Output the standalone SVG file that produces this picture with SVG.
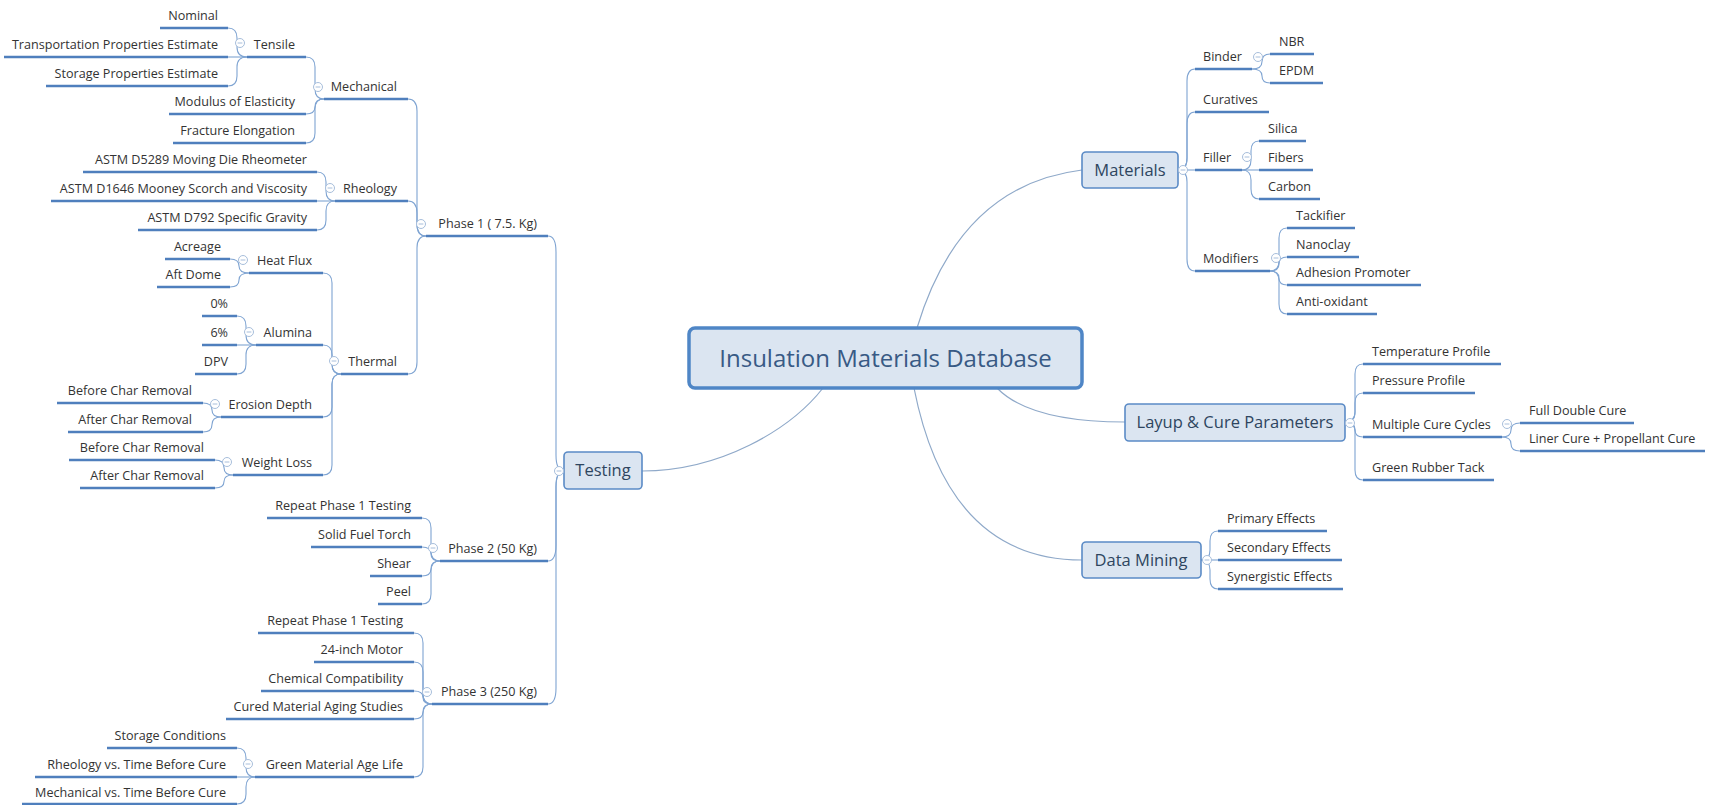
<svg xmlns="http://www.w3.org/2000/svg" xmlns:xlink="http://www.w3.org/1999/xlink" width="1713" height="805" viewBox="0 0 1713 805">
<style>
.t{font-family:"Open Sans","Liberation Sans",sans-serif;font-size:12.6px;fill:#333}
.l{text-anchor:end}
.ul{stroke:#4f7fbd;stroke-width:2.6;fill:none}
.cn{stroke:#7fa4d2;stroke-width:1.1;fill:none}
.mc{stroke:#8fa9c9;stroke-width:1.2;fill:none}
.box{fill:#dbe5f1;stroke:#5b8bc6;stroke-width:1.6}
.bt{font-family:"Open Sans","Liberation Sans",sans-serif;font-size:16.5px;fill:#2e4560;text-anchor:middle}
.ct{font-family:"Open Sans","Liberation Sans",sans-serif;font-size:24px;fill:#385a85;text-anchor:middle}
.col circle{fill:#fff;stroke:#a7bedb;stroke-width:1}
.col line{stroke:#a7bedb;stroke-width:1}
</style>
<defs>
<g id="col" class="col"><circle r="4.5"/><line x1="-2.4" y1="0" x2="2.4" y2="0"/></g>
</defs>
<rect width="1713" height="805" fill="#fff"/>
<g id="connectors">
<g class="mc">
<path d="M642,471 C720,471 790,430 823,388"/>
<path d="M917,328 Q960,185 1082,170"/>
<path d="M997,388 Q1030,422 1125,422"/>
<path d="M914,388 Q948,560 1082,560"/>
</g>
<g class="cn">
<path d="M228,28 Q237,28 237,38 V47 Q237,57 247,57"/>
<path d="M228,57 H247"/>
<path d="M228,86 Q237,86 237,76 V67 Q237,57 247,57"/>
<path d="M306,57 Q315,57 315,67 V89 Q315,99 324,99"/>
<path d="M306,114 Q315,114 315,106.5 Q315,99 324,99"/>
<path d="M306,143 Q315,143 315,133 V109 Q315,99 324,99"/>
<path d="M317,172 Q326,172 326,182 V191 Q326,201 335,201"/>
<path d="M317,201 H335"/>
<path d="M317,230 Q326,230 326,220 V211 Q326,201 335,201"/>
<path d="M230,259 Q239,259 239,266 Q239,273 249,273"/>
<path d="M230,287 Q239,287 239,280 Q239,273 249,273"/>
<path d="M237,316 Q246,316 246,326 V335 Q246,345 256,345"/>
<path d="M237,345 H256"/>
<path d="M237,374 Q246,374 246,364 V355 Q246,345 256,345"/>
<path d="M203,403 Q212,403 212,410 Q212,417 221,417"/>
<path d="M203,432 Q212,432 212,424.5 Q212,417 221,417"/>
<path d="M215,460 Q224,460 224,467.5 Q224,475 233,475"/>
<path d="M215,488 Q224,488 224,481.5 Q224,475 233,475"/>
<path d="M323,273 Q332,273 332,283 V364 Q332,374 341,374"/>
<path d="M323,345 Q332,345 332,355 V364 Q332,374 341,374"/>
<path d="M323,417 Q332,417 332,407 V384 Q332,374 341,374"/>
<path d="M323,475 Q332,475 332,465 V384 Q332,374 341,374"/>
<path d="M408,99 Q417,99 417,111 V224 Q417,236 426,236"/>
<path d="M408,201 Q417,201 417,213 V224 Q417,236 426,236"/>
<path d="M408,374 Q417,374 417,362 V248 Q417,236 426,236"/>
<path d="M422,518 Q431,518 431,528 V551 Q431,561 440,561"/>
<path d="M422,547 Q431,547 431,554 Q431,561 440,561"/>
<path d="M422,576 Q431,576 431,568.5 Q431,561 440,561"/>
<path d="M422,604 Q431,604 431,594 V571 Q431,561 440,561"/>
<path d="M414,633 Q423,633 423,643 V694 Q423,704 432,704"/>
<path d="M414,662 Q423,662 423,672 V694 Q423,704 432,704"/>
<path d="M414,691 Q423,691 423,697.5 Q423,704 432,704"/>
<path d="M414,719 Q423,719 423,711.5 Q423,704 432,704"/>
<path d="M414,777 Q423,777 423,767 V714 Q423,704 432,704"/>
<path d="M237,748 Q246,748 246,758 V767 Q246,777 255,777"/>
<path d="M237,777 H255"/>
<path d="M237,804 Q246,804 246,794 V787 Q246,777 255,777"/>
<path d="M548,236 Q556,236 556,252 V455 Q556,471 564,471"/>
<path d="M548,561 Q556,561 556,545 V487 Q556,471 564,471"/>
<path d="M548,704 Q556,704 556,688 V487 Q556,471 564,471"/>
<path d="M1178,170 Q1187,170 1187,158 V81 Q1187,69 1195,69"/>
<path d="M1178,170 Q1187,170 1187,158 V124 Q1187,112 1195,112"/>
<path d="M1178,170 H1195"/>
<path d="M1178,170 Q1187,170 1187,182 V259 Q1187,271 1195,271"/>
<path d="M1252,69 Q1262,69 1262,61.5 Q1262,54 1270,54"/>
<path d="M1252,69 Q1262,69 1262,76 Q1262,83 1270,83"/>
<path d="M1242,170 Q1251,170 1251,160 V151 Q1251,141 1259,141"/>
<path d="M1242,170 H1259"/>
<path d="M1242,170 Q1251,170 1251,180 V189 Q1251,199 1259,199"/>
<path d="M1270,271 Q1279,271 1279,261 V238 Q1279,228 1287,228"/>
<path d="M1270,271 Q1279,271 1279,264 Q1279,257 1287,257"/>
<path d="M1270,271 Q1279,271 1279,278 Q1279,285 1287,285"/>
<path d="M1270,271 Q1279,271 1279,281 V304 Q1279,314 1287,314"/>
<path d="M1345,422 Q1355,422 1355,412 V374 Q1355,364 1363,364"/>
<path d="M1345,422 Q1355,422 1355,412 V403 Q1355,393 1363,393"/>
<path d="M1345,422 Q1355,422 1355,429.5 Q1355,437 1363,437"/>
<path d="M1345,422 Q1355,422 1355,432 V470 Q1355,480 1363,480"/>
<path d="M1502,437 Q1511,437 1511,430 Q1511,423 1520,423"/>
<path d="M1502,437 Q1511,437 1511,444 Q1511,451 1520,451"/>
<path d="M1201,560 Q1210,560 1210,550 V541 Q1210,531 1218,531"/>
<path d="M1201,560 H1218"/>
<path d="M1201,560 Q1210,560 1210,570 V579 Q1210,589 1218,589"/>
</g>
</g>
<g id="n-central"><rect x="689" y="328" width="393" height="60" rx="6" fill="#dbe5f1" stroke="#4f86c6" stroke-width="3.5"/><text class="ct" x="885.5" y="367">Insulation Materials Database</text></g>
<g id="n-testing"><rect class="box" x="564" y="452" width="78" height="37" rx="4"/><text class="bt" x="603" y="476">Testing</text><use href="#col" x="559" y="471"/></g>
<g id="n-nominal"><path class="ul" d="M160,28 H228"/><text class="t l" x="218" y="20">Nominal</text></g>
<g id="n-transport"><path class="ul" d="M4,57 H228"/><text class="t l" x="218" y="49">Transportation Properties Estimate</text></g>
<g id="n-storage-est"><path class="ul" d="M46,86 H228"/><text class="t l" x="218" y="78">Storage Properties Estimate</text></g>
<g id="n-tensile"><path class="ul" d="M247,57 H306"/><text class="t l" x="295" y="49">Tensile</text><use href="#col" x="240" y="43"/></g>
<g id="n-modulus"><path class="ul" d="M169,114 H306"/><text class="t l" x="295" y="106">Modulus of Elasticity</text></g>
<g id="n-fracture"><path class="ul" d="M173,143 H306"/><text class="t l" x="295" y="135">Fracture Elongation</text></g>
<g id="n-mechanical"><path class="ul" d="M324,99 H408"/><text class="t l" x="397" y="91">Mechanical</text><use href="#col" x="318" y="87"/></g>
<g id="n-d5289"><path class="ul" d="M83,172 H317"/><text class="t l" x="307" y="164">ASTM D5289 Moving Die Rheometer</text></g>
<g id="n-d1646"><path class="ul" d="M51,201 H317"/><text class="t l" x="307" y="193">ASTM D1646 Mooney Scorch and Viscosity</text></g>
<g id="n-d792"><path class="ul" d="M138,230 H317"/><text class="t l" x="307" y="222">ASTM D792 Specific Gravity</text></g>
<g id="n-rheology"><path class="ul" d="M335,201 H408"/><text class="t l" x="397" y="193">Rheology</text><use href="#col" x="330" y="188"/></g>
<g id="n-acreage"><path class="ul" d="M165,259 H230"/><text class="t l" x="221" y="251">Acreage</text></g>
<g id="n-aftdome"><path class="ul" d="M157,287 H230"/><text class="t l" x="221" y="279">Aft Dome</text></g>
<g id="n-heatflux"><path class="ul" d="M249,273 H323"/><text class="t l" x="312" y="265">Heat Flux</text><use href="#col" x="243" y="260"/></g>
<g id="n-0pct"><path class="ul" d="M202,316 H237"/><text class="t l" x="228" y="308">0%</text></g>
<g id="n-6pct"><path class="ul" d="M202,345 H237"/><text class="t l" x="228" y="337">6%</text></g>
<g id="n-dpv"><path class="ul" d="M195,374 H237"/><text class="t l" x="228" y="366">DPV</text></g>
<g id="n-alumina"><path class="ul" d="M256,345 H323"/><text class="t l" x="312" y="337">Alumina</text><use href="#col" x="249" y="332"/></g>
<g id="n-before1"><path class="ul" d="M57,403 H203"/><text class="t l" x="192" y="395">Before Char Removal</text></g>
<g id="n-after1"><path class="ul" d="M68,432 H203"/><text class="t l" x="192" y="424">After Char Removal</text></g>
<g id="n-erosion"><path class="ul" d="M221,417 H323"/><text class="t l" x="312" y="409">Erosion Depth</text><use href="#col" x="215" y="404"/></g>
<g id="n-before2"><path class="ul" d="M69,460 H215"/><text class="t l" x="204" y="452">Before Char Removal</text></g>
<g id="n-after2"><path class="ul" d="M80,488 H215"/><text class="t l" x="204" y="480">After Char Removal</text></g>
<g id="n-weight"><path class="ul" d="M233,475 H323"/><text class="t l" x="312" y="467">Weight Loss</text><use href="#col" x="227" y="462"/></g>
<g id="n-thermal"><path class="ul" d="M341,374 H408"/><text class="t l" x="397" y="366">Thermal</text><use href="#col" x="334" y="361"/></g>
<g id="n-phase1"><path class="ul" d="M426,236 H548"/><text class="t l" x="537" y="228">Phase 1 ( 7.5. Kg)</text><use href="#col" x="421" y="224"/></g>
<g id="n-p2-repeat"><path class="ul" d="M267,518 H422"/><text class="t l" x="411" y="510">Repeat Phase 1 Testing</text></g>
<g id="n-torch"><path class="ul" d="M311,547 H422"/><text class="t l" x="411" y="539">Solid Fuel Torch</text></g>
<g id="n-shear"><path class="ul" d="M370,576 H422"/><text class="t l" x="411" y="568">Shear</text></g>
<g id="n-peel"><path class="ul" d="M378,604 H422"/><text class="t l" x="411" y="596">Peel</text></g>
<g id="n-phase2"><path class="ul" d="M440,561 H548"/><text class="t l" x="537" y="553">Phase 2 (50 Kg)</text><use href="#col" x="433" y="548"/></g>
<g id="n-p3-repeat"><path class="ul" d="M258,633 H414"/><text class="t l" x="403" y="625">Repeat Phase 1 Testing</text></g>
<g id="n-motor"><path class="ul" d="M314,662 H414"/><text class="t l" x="403" y="654">24-inch Motor</text></g>
<g id="n-chem"><path class="ul" d="M261,691 H414"/><text class="t l" x="403" y="683">Chemical Compatibility</text></g>
<g id="n-cured"><path class="ul" d="M226,719 H414"/><text class="t l" x="403" y="711">Cured Material Aging Studies</text></g>
<g id="n-green-age"><path class="ul" d="M255,777 H414"/><text class="t l" x="403" y="769">Green Material Age Life</text><use href="#col" x="248" y="764"/></g>
<g id="n-storage-cond"><path class="ul" d="M107,748 H237"/><text class="t l" x="226" y="740">Storage Conditions</text></g>
<g id="n-rheo-time"><path class="ul" d="M35,777 H237"/><text class="t l" x="226" y="769">Rheology vs. Time Before Cure</text></g>
<g id="n-mech-time"><path class="ul" d="M22,804 H237"/><text class="t l" x="226" y="797">Mechanical vs. Time Before Cure</text></g>
<g id="n-phase3"><path class="ul" d="M432,704 H548"/><text class="t l" x="537" y="696">Phase 3 (250 Kg)</text><use href="#col" x="427" y="692"/></g>
<g id="n-materials"><rect class="box" x="1082" y="152" width="96" height="36" rx="4"/><text class="bt" x="1130" y="176">Materials</text><use href="#col" x="1183" y="170"/></g>
<g id="n-binder"><path class="ul" d="M1195,69 H1252"/><text class="t" x="1203" y="61">Binder</text><use href="#col" x="1258" y="57"/></g>
<g id="n-nbr"><path class="ul" d="M1270,54 H1314"/><text class="t" x="1279" y="46">NBR</text></g>
<g id="n-epdm"><path class="ul" d="M1270,83 H1323"/><text class="t" x="1279" y="75">EPDM</text></g>
<g id="n-curatives"><path class="ul" d="M1195,112 H1269"/><text class="t" x="1203" y="104">Curatives</text></g>
<g id="n-filler"><path class="ul" d="M1195,170 H1242"/><text class="t" x="1203" y="162">Filler</text><use href="#col" x="1247" y="157"/></g>
<g id="n-silica"><path class="ul" d="M1259,141 H1306"/><text class="t" x="1268" y="133">Silica</text></g>
<g id="n-fibers"><path class="ul" d="M1259,170 H1313"/><text class="t" x="1268" y="162">Fibers</text></g>
<g id="n-carbon"><path class="ul" d="M1259,199 H1320"/><text class="t" x="1268" y="191">Carbon</text></g>
<g id="n-modifiers"><path class="ul" d="M1195,271 H1270"/><text class="t" x="1203" y="263">Modifiers</text><use href="#col" x="1276" y="258"/></g>
<g id="n-tackifier"><path class="ul" d="M1287,228 H1355"/><text class="t" x="1296" y="220">Tackifier</text></g>
<g id="n-nanoclay"><path class="ul" d="M1287,257 H1359"/><text class="t" x="1296" y="249">Nanoclay</text></g>
<g id="n-adhesion"><path class="ul" d="M1287,285 H1421"/><text class="t" x="1296" y="277">Adhesion Promoter</text></g>
<g id="n-anti"><path class="ul" d="M1287,314 H1377"/><text class="t" x="1296" y="306">Anti-oxidant</text></g>
<g id="n-layup"><rect class="box" x="1125" y="404" width="220" height="37" rx="4"/><text class="bt" x="1235" y="428">Layup &amp; Cure Parameters</text><use href="#col" x="1350" y="423"/></g>
<g id="n-temp"><path class="ul" d="M1363,364 H1501"/><text class="t" x="1372" y="356">Temperature Profile</text></g>
<g id="n-pressure"><path class="ul" d="M1363,393 H1475"/><text class="t" x="1372" y="385">Pressure Profile</text></g>
<g id="n-multiple"><path class="ul" d="M1363,437 H1502"/><text class="t" x="1372" y="429">Multiple Cure Cycles</text><use href="#col" x="1507" y="424"/></g>
<g id="n-green-tack"><path class="ul" d="M1363,480 H1494"/><text class="t" x="1372" y="472">Green Rubber Tack</text></g>
<g id="n-full"><path class="ul" d="M1520,423 H1634"/><text class="t" x="1529" y="415">Full Double Cure</text></g>
<g id="n-liner"><path class="ul" d="M1520,451 H1705"/><text class="t" x="1529" y="443">Liner Cure + Propellant Cure</text></g>
<g id="n-datamining"><rect class="box" x="1082" y="542" width="119" height="36" rx="4"/><text class="bt" x="1141" y="566">Data Mining</text><use href="#col" x="1207" y="560"/></g>
<g id="n-primary"><path class="ul" d="M1218,531 H1327"/><text class="t" x="1227" y="523">Primary Effects</text></g>
<g id="n-secondary"><path class="ul" d="M1218,560 H1342"/><text class="t" x="1227" y="552">Secondary Effects</text></g>
<g id="n-synergistic"><path class="ul" d="M1218,589 H1343"/><text class="t" x="1227" y="581">Synergistic Effects</text></g>
</svg>
